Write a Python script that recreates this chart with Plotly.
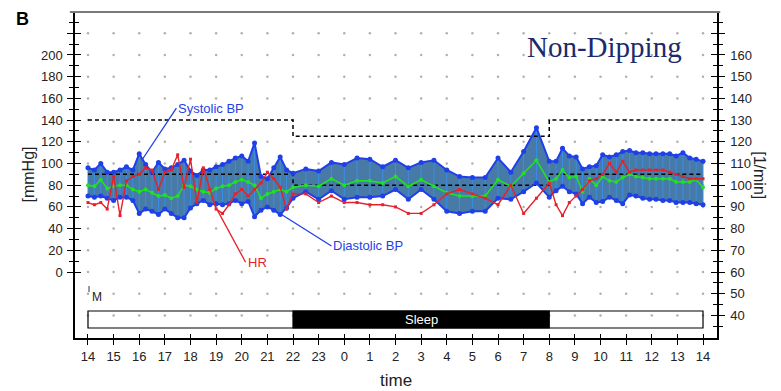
import plotly.graph_objects as go

# ---------------- data ----------------
times = (
    ["14:00", "14:15", "14:30", "14:45", "15:00", "15:15", "15:30", "15:45",
     "16:00", "16:15", "16:30", "16:45", "17:00", "17:15", "17:30", "17:45",
     "18:00", "18:15", "18:30", "18:45", "19:00", "19:15", "19:30", "19:45",
     "20:00", "20:15", "20:30", "20:45", "21:00", "21:15", "21:30", "21:45", "22:00"]
    + ["22:30", "23:00", "23:30", "00:00", "00:30", "01:00", "01:30", "02:00", "02:30", "03:00",
       "03:30", "04:00", "04:30", "05:00", "05:30", "06:00", "06:30", "07:00", "07:30", "08:00"]
    + ["08:16", "08:31", "08:47", "09:03", "09:18", "09:34", "09:50", "10:05", "10:21", "10:37",
       "10:52", "11:08", "11:23", "11:39", "11:55", "12:10", "12:26", "12:42", "12:57", "13:13",
       "13:29", "13:44", "14:00"]
)

systolic = (
    [96, 94, 100, 92, 92, 94, 97, 94, 109, 99, 92, 101, 95, 96, 99, 103, 93, 89, 94, 94,
     97, 99, 102, 105, 107, 102, 119, 88, 86, 96, 106, 94, 91]
    + [95, 93, 101, 99, 105, 104, 97, 103, 96, 101, 103, 94, 88, 87, 87, 105, 92, 111, 133, 102]
    + [102, 114, 107, 106, 95, 97, 98, 108, 106, 108, 111, 112, 110, 110, 109, 109, 109, 109,
       107, 110, 105, 104, 102]
)

diastolic = (
    [70, 69, 70, 68, 66, 69, 69, 66, 54, 58, 56, 53, 58, 54, 50, 50, 59, 63, 66, 62,
     63, 62, 63, 66, 63, 65, 51, 57, 60, 57, 53, 59, 68]
    + [74, 67, 75, 67, 69, 69, 70, 76, 67, 76, 67, 56, 54, 56, 56, 68, 67, 74, 82, 69]
    + [75, 79, 74, 72, 63, 69, 64, 65, 69, 66, 63, 71, 70, 68, 67, 67, 66, 66, 64, 64,
       64, 63, 62]
)

mean_bp = (
    [80, 79, 85, 77, 79, 80, 80, 76, 74, 76, 73, 70, 71, 68, 70, 80, 79, 76, 74, 73,
     77, 79, 80, 83, 85, 83, 80, 68, 72, 74, 76, 74, 78]
    + [80, 79, 86, 80, 84, 84, 82, 88, 79, 85, 79, 73, 70, 70, 70, 85, 79, 91, 103, 83]
    + [86, 94, 87, 88, 74, 86, 80, 88, 84, 83, 87, 90, 88, 87, 86, 86, 86, 86, 83, 83,
       83, 85, 78]
)

heart_rate = (
    [92, 91, 92, 89, 104, 86, 102, 104, 105, 108, 107, 98, 106, 107, 114, 99, 112, 92, 108, 98,
     89, 87, 91, 96, 98, 95, 98, 101, 106, 103, 99, 89, 96]
    + [96, 92, 95, 92, 92, 91, 91, 90, 87, 87, 91, 96, 98, 96, 94, 91, 100, 87, 94, 101]
    + [91, 86, 92, 95, 98, 102, 103, 105, 110, 106, 111, 106, 107, 107, 107, 107, 107, 106,
       105, 104, 103, 103, 103]
)

assert len(times) == len(systolic) == len(diastolic) == len(mean_bp) == len(heart_rate)

hour_ticks = list(range(14, 39))
hour_labels = [str(h % 24) for h in hour_ticks]
left_ticks = list(range(0, 221, 20))
left_labels = [str(v) if v <= 200 else "" for v in left_ticks]
left_minor = list(range(10, 231, 20))
right_ticks = list(range(40, 171, 10))
right_labels = [str(v) if v <= 160 else "" for v in right_ticks]
right_minor = list(range(35, 176, 10))
grid_levels = list(range(-40, 221, 20))

day_start, sleep_start, sleep_end, day_end = 14, 22, 32, 38
sys_limit_day, sys_limit_night = 140, 125
dia_limit_day, dia_limit_night = 90, 80

# ---------------- helpers ----------------
def to_hours(ts):
    out, off, prev = [], 0, -1
    for t in ts:
        h, m = map(int, t.split(":"))
        v = h + m / 60 + off
        if v < prev:
            off += 24
            v += 24
        out.append(v)
        prev = v
    return out

x = to_hours(times)

FONT = "Liberation Sans, Arial, sans-serif"
BLUE = "#1f3fe8"
FILL = "#477aa6"
VLINE = "#3a8ee6"
GREEN = "#22e022"
RED = "#e8202a"

X_RANGE = [13.493, 38.546]
L_RANGE = [-60.8, 239.6]
R_RANGE = [29.6, 179.8]

fig = go.Figure()

# dotted grid (dots at intersections)
gx, gy = [], []
for h in hour_ticks:
    for v in grid_levels:
        gx.append(h)
        gy.append(v)
fig.add_trace(go.Scatter(x=gx, y=gy, mode="markers", hoverinfo="skip",
                         marker=dict(size=2.5, color="#b0b0b0"), showlegend=False))

# band
fig.add_trace(go.Scatter(x=x, y=diastolic, mode="lines", line=dict(width=0, color=BLUE),
                         showlegend=False, hoverinfo="skip"))
fig.add_trace(go.Scatter(x=x, y=systolic, mode="lines", line=dict(width=0, color=BLUE),
                         fill="tonexty", fillcolor=FILL, showlegend=False, hoverinfo="skip"))

# vertical measurement lines
vx, vy = [], []
for xi, d, s in zip(x, diastolic, systolic):
    vx += [xi, xi, None]
    vy += [d, s, None]
fig.add_trace(go.Scatter(x=vx, y=vy, mode="lines", line=dict(width=1, color=VLINE),
                         showlegend=False, hoverinfo="skip"))

# thresholds
thr_x = [day_start, sleep_start, sleep_start, sleep_end, sleep_end, day_end]
for dval, nval in [(sys_limit_day, sys_limit_night), (dia_limit_day, dia_limit_night)]:
    fig.add_trace(go.Scatter(x=thr_x, y=[dval, dval, nval, nval, dval, dval], mode="lines",
                             line=dict(color="black", width=1.5, dash="4px,3px"),
                             showlegend=False, hoverinfo="skip"))

# systolic / diastolic outlines
for series in (systolic, diastolic):
    fig.add_trace(go.Scatter(x=x, y=series, mode="lines+markers",
                             line=dict(color=BLUE, width=2),
                             marker=dict(size=5, color=BLUE), showlegend=False))

# mean
fig.add_trace(go.Scatter(x=x, y=mean_bp, mode="lines+markers",
                         line=dict(color=GREEN, width=1.6),
                         marker=dict(size=4, color=GREEN), showlegend=False))

# heart rate on right axis
fig.add_trace(go.Scatter(x=x, y=heart_rate, mode="lines+markers", yaxis="y2",
                         line=dict(color=RED, width=1.4),
                         marker=dict(size=3, color=RED, symbol="square"), showlegend=False))

# invisible traces to activate overlay tick axes
fig.add_trace(go.Scatter(x=[20], y=[0], yaxis="y3", mode="markers",
                         marker=dict(opacity=0), showlegend=False, hoverinfo="skip"))
fig.add_trace(go.Scatter(x=[20], y=[50], yaxis="y4", mode="markers",
                         marker=dict(opacity=0), showlegend=False, hoverinfo="skip"))
fig.add_trace(go.Scatter(x=[20], y=[0], xaxis="x2", mode="markers",
                         marker=dict(opacity=0), showlegend=False, hoverinfo="skip"))

tickfont = dict(family=FONT, size=13, color="#222")

fig.update_layout(
    width=781, height=391,
    margin=dict(l=75, r=64, t=12, b=53),
    paper_bgcolor="white", plot_bgcolor="white",
    showlegend=False,
    xaxis=dict(range=X_RANGE, tickmode="array", tickvals=hour_ticks, ticktext=hour_labels,
               ticks="outside", ticklen=5, tickwidth=1.3, tickcolor="black",
               showline=True, linecolor="black", linewidth=1.5, showgrid=False,
               zeroline=False, tickfont=tickfont, ticklabelstandoff=1),
    xaxis2=dict(range=X_RANGE, overlaying="x", anchor="y", side="bottom", tickmode="array",
                tickvals=hour_ticks, ticks="inside", ticklen=4, tickwidth=1.3,
                tickcolor="black", showticklabels=False, showline=False, showgrid=False,
                zeroline=False),
    yaxis=dict(range=L_RANGE, tickmode="array", tickvals=left_ticks, ticktext=left_labels,
               ticks="outside", ticklen=6, tickwidth=1.3, tickcolor="black",
               minor=dict(tickvals=left_minor, ticks="outside", ticklen=4, tickwidth=1.3,
                          tickcolor="black", showgrid=False),
               showline=True, linecolor="black", linewidth=1.5, showgrid=False,
               zeroline=False, tickfont=tickfont, ticklabelstandoff=2),
    yaxis3=dict(range=L_RANGE, overlaying="y", anchor="x", side="left", tickmode="array",
                tickvals=left_ticks, ticks="inside", ticklen=6, tickwidth=1.3,
                tickcolor="black",
                minor=dict(tickvals=left_minor, ticks="inside", ticklen=4, tickwidth=1.3,
                           tickcolor="black", showgrid=False),
                showticklabels=False, showline=False, showgrid=False, zeroline=False),
    yaxis2=dict(range=R_RANGE, overlaying="y", anchor="x", side="right", tickmode="array",
                tickvals=right_ticks, ticktext=right_labels,
                ticks="outside", ticklen=6, tickwidth=1.3, tickcolor="black",
                minor=dict(tickvals=right_minor, ticks="outside", ticklen=4, tickwidth=1.3,
                           tickcolor="black", showgrid=False),
                showline=True, linecolor="black", linewidth=1.5, showgrid=False,
                zeroline=False, tickfont=tickfont, ticklabelstandoff=3),
    yaxis4=dict(range=R_RANGE, overlaying="y", anchor="x", side="right", tickmode="array",
                tickvals=right_ticks, ticks="inside", ticklen=6, tickwidth=1.3,
                tickcolor="black",
                minor=dict(tickvals=right_minor, ticks="inside", ticklen=4, tickwidth=1.3,
                           tickcolor="black", showgrid=False),
                showticklabels=False, showline=False, showgrid=False, zeroline=False),
)

# sleep bar
bar_lo, bar_hi = -51.6, -35.9
fig.add_shape(type="rect", xref="x", yref="y", x0=day_start, x1=day_end, y0=bar_lo, y1=bar_hi,
              line=dict(color="black", width=1.2), fillcolor="rgba(0,0,0,0)", layer="above")
fig.add_shape(type="rect", xref="x", yref="y", x0=sleep_start, x1=sleep_end, y0=bar_lo, y1=bar_hi,
              line=dict(color="black", width=1.2), fillcolor="black", layer="above")
fig.add_annotation(x=(sleep_start + sleep_end) / 2, y=(bar_lo + bar_hi) / 2, text="Sleep",
                   showarrow=False, font=dict(family=FONT, size=13, color="white"))

# M marker
marker_events = [("M", 14.04)]
for label, t in marker_events:
    fig.add_shape(type="line", xref="x", yref="y", x0=t, x1=t, y0=-12.9, y1=-18.4,
                  line=dict(color="#333", width=1))
    fig.add_annotation(x=t + 0.05, y=-23, text=label, showarrow=False, xanchor="left",
                       font=dict(family=FONT, size=12, color="#222"))

# top frame line
fig.add_shape(type="line", xref="paper", yref="paper", x0=-0.008, x1=1.005, y0=1, y1=1,
              line=dict(color="#7a7a7a", width=2))

# pointer labels
pointers = [
    ("Systolic BP", 16.1, 103, 17.45, 151, BLUE),
    ("Diastolic BP", 21.55, 53, 23.5, 24, BLUE),
    ("HR", 19.05, 57, 20.15, 9, RED),
]
for text, hx, hy, tx, ty, col in pointers:
    fig.add_annotation(x=hx, y=hy, ax=tx, ay=ty, xref="x", yref="y", axref="x", ayref="y",
                       text=text, showarrow=True, arrowhead=0, arrowwidth=1.3, arrowcolor=col,
                       xanchor="left", font=dict(family=FONT, size=13, color=col))

fig.add_annotation(x=34.14, y=207, xref="x", yref="y", text="Non-Dipping", showarrow=False,
                   font=dict(family="Liberation Serif, Times New Roman, serif", size=29,
                             color="#1b2a6b"))

fig.add_annotation(x=-0.095, y=1.015, xref="paper", yref="paper", text="<b>B</b>",
                   showarrow=False, font=dict(family=FONT, size=18, color="black"))
fig.add_annotation(x=-0.0903, y=0.5, xref="paper", yref="paper", text="[mmHg]",
                   textangle=-90, showarrow=False, font=dict(family=FONT, size=16, color="#222"))
fig.add_annotation(x=1.083, y=0.5, xref="paper", yref="paper", text="[1/min]",
                   textangle=90, showarrow=False, font=dict(family=FONT, size=16, color="#222"))
fig.add_annotation(x=0.5, y=-0.13, xref="paper", yref="paper", text="time", yanchor="middle",
                   showarrow=False, font=dict(family=FONT, size=17, color="#222"))

fig.write_html("out.html")
